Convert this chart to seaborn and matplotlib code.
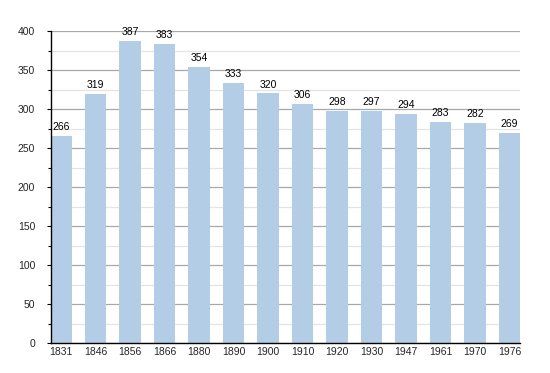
import matplotlib
matplotlib.use("Agg")
import matplotlib.pyplot as plt
import seaborn as sns
import pandas as pd
from matplotlib.ticker import MultipleLocator

years = ["1831", "1846", "1856", "1866", "1880", "1890", "1900", "1910",
         "1920", "1930", "1947", "1961", "1970", "1976"]
population = [266, 319, 387, 383, 354, 333, 320, 306, 298, 297, 294, 283, 282, 269]

df = pd.DataFrame({"year": years, "population": population})

sns.set_style("white")
plt.rcParams['font.family'] = ['Liberation Sans', 'DejaVu Sans']

fig = plt.figure(figsize=(5.5, 3.73), dpi=100)
ax = fig.add_axes([50.5 / 550, 1 - 343 / 373, (520 - 50.5) / 550, (343 - 31) / 373])

sns.barplot(data=df, x="year", y="population", color="#b3cde6", saturation=1,
            width=0.61, linewidth=0, ax=ax)
for p in ax.patches:
    p.set_zorder(3)
    p.set_edgecolor("none")

ax.set_xlim(-0.305, len(years) - 1 + 0.305)
ax.set_ylim(0, 400)
ax.yaxis.set_major_locator(MultipleLocator(50))
ax.yaxis.set_minor_locator(MultipleLocator(25))
ax.set_axisbelow(True)
ax.grid(which="major", axis="y", color="#a8a8a8", linewidth=0.9)
ax.grid(which="minor", axis="y", color="#e4e4e4", linewidth=0.9)

for s in ["top", "right"]:
    ax.spines[s].set_visible(False)
for s in ["left", "bottom"]:
    ax.spines[s].set_color("black")
    ax.spines[s].set_linewidth(1.0)
    ax.spines[s].set_zorder(5)

ax.tick_params(axis="y", which="major", direction="out", length=3, width=0.8,
               color="black", labelsize=7.5, pad=8, left=True)
ax.tick_params(axis="y", which="minor", direction="out", length=2, width=0.8,
               color="black", left=True)
ax.tick_params(axis="x", length=0, labelsize=7.5, pad=3)
ax.set_xlabel("")
ax.set_ylabel("")

for i, v in enumerate(population):
    ax.text(i, v + 5, str(v), ha="center", va="bottom", fontsize=7.5, color="black", zorder=6)

fig.savefig("out.png", dpi=100)
